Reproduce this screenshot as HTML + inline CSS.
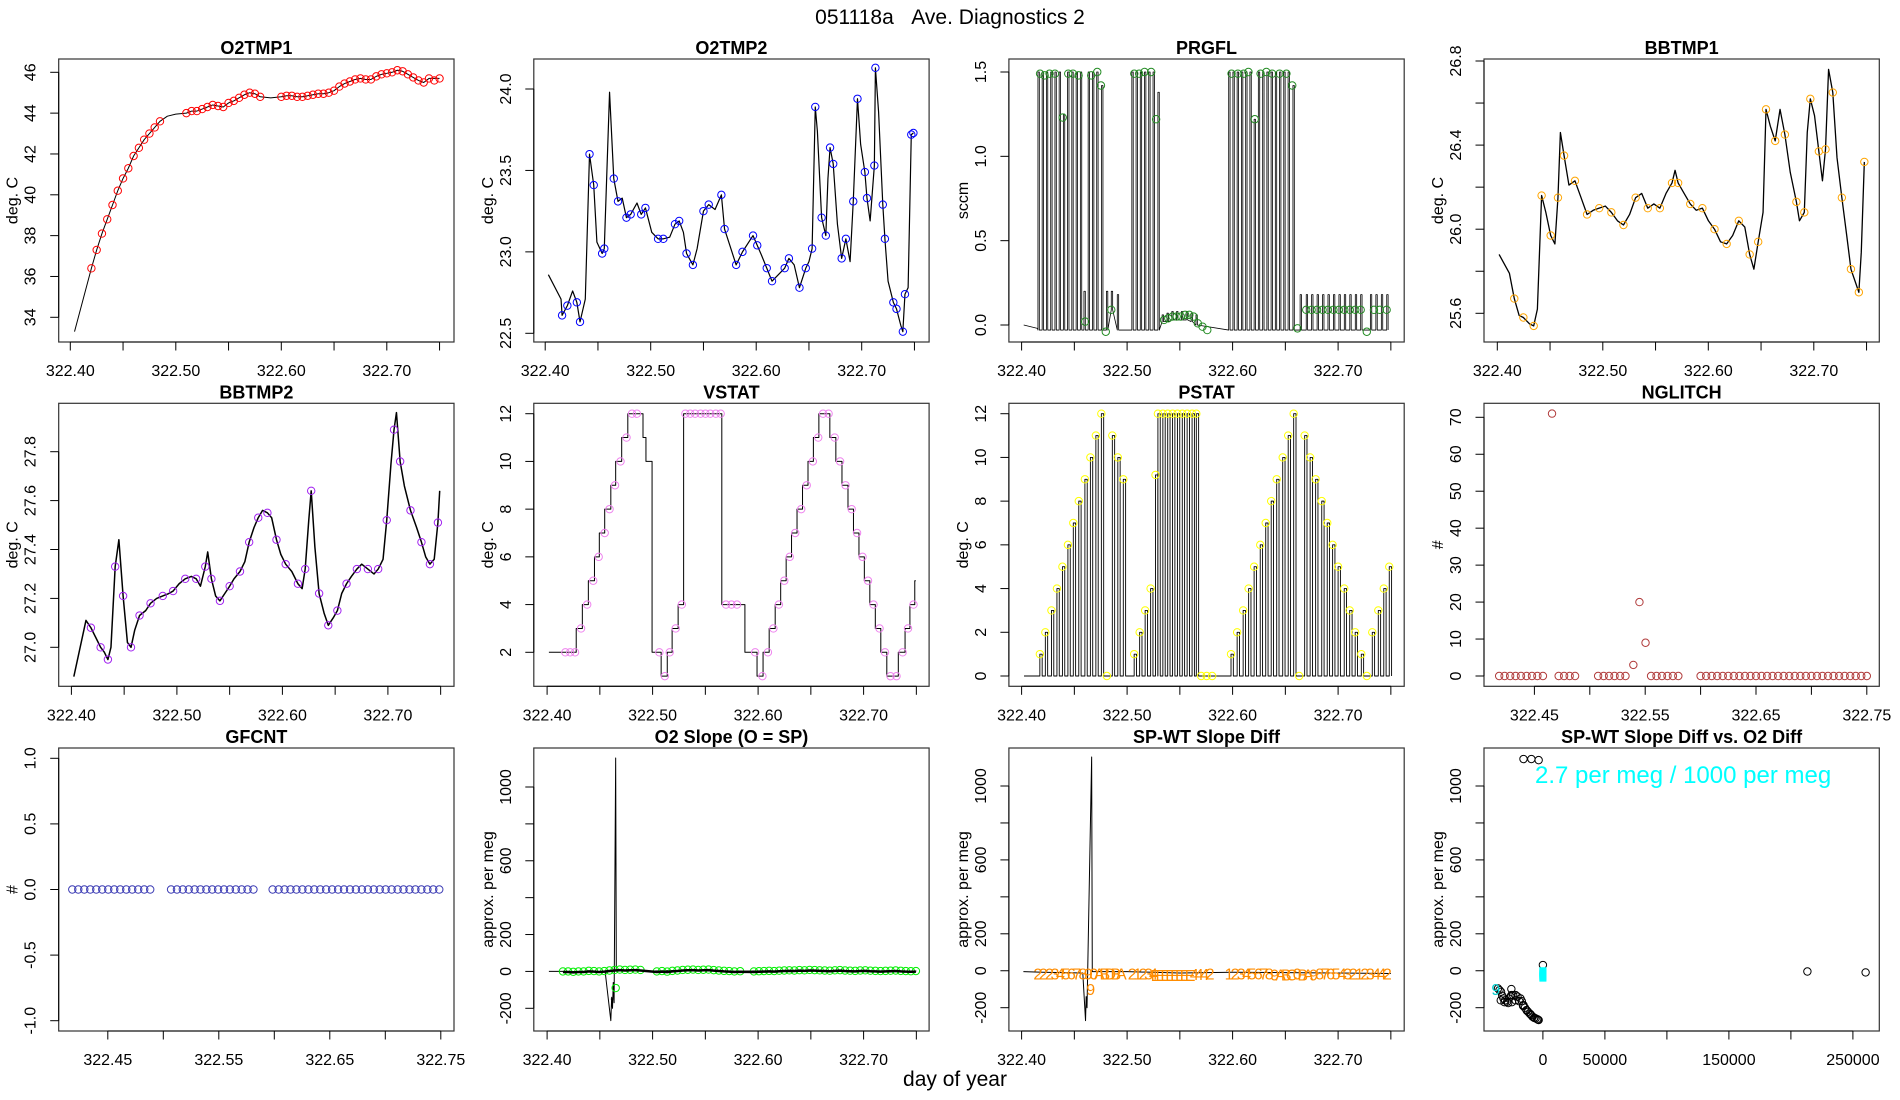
<!DOCTYPE html>
<html><head><meta charset="utf-8"><title>051118a Ave. Diagnostics 2</title>
<style>
html,body{margin:0;padding:0;background:#fff;}
svg{display:block;font-family:"Liberation Sans",Arial,sans-serif;}
</style></head>
<body>
<svg id="chart" width="1900" height="1100" viewBox="0 0 1900 1100" xmlns="http://www.w3.org/2000/svg">
<rect x="0" y="0" width="1900" height="1100" fill="#fff"/>
<text x="950" y="24" font-size="21" text-anchor="middle">051118a&#160;&#160;&#160;Ave. Diagnostics 2</text>
<text x="955" y="1086" font-size="21" text-anchor="middle">day of year</text>
</svg>
<script>
// ---------- DATA ----------
const dayTicks=[322.40,322.45,322.50,322.55,322.60,322.65,322.70,322.75];
const dayLabels=['322.40','','322.50','','322.60','','322.70',''];
const shortTicks=[322.45,322.50,322.55,322.60,322.65,322.70,322.75];
const shortLabels=['322.45','','322.55','','322.65','','322.75'];

// O2TMP1
const o2t1LineT=[322.404,322.420,322.425,322.430,322.435,322.440,322.445,322.450,322.455,322.460,322.465,322.470,322.475,322.480,322.485,322.492,322.500,322.510,322.515,322.520,322.525,322.530,322.535,322.540,322.545,322.550,322.555,322.560,322.565,322.570,322.575,322.580,322.590,322.600,322.605,322.610,322.615,322.620,322.625,322.630,322.635,322.640,322.645,322.650,322.655,322.660,322.665,322.670,322.675,322.680,322.685,322.690,322.695,322.700,322.705,322.710,322.715,322.720,322.725,322.730,322.735,322.740,322.745,322.750];
const o2t1LineV=[33.3,36.4,37.3,38.1,38.8,39.5,40.2,40.8,41.3,41.9,42.3,42.7,43.0,43.3,43.6,43.85,43.95,44.0,44.1,44.1,44.2,44.3,44.4,44.35,44.3,44.5,44.6,44.75,44.9,45.0,44.95,44.8,44.75,44.8,44.85,44.85,44.8,44.8,44.85,44.9,44.95,44.95,45.0,45.1,45.3,45.45,45.55,45.65,45.7,45.65,45.65,45.8,45.9,45.95,46.0,46.1,46.05,45.9,45.75,45.6,45.5,45.7,45.7,45.7];
const o2t1CircT=[322.420,322.425,322.430,322.435,322.440,322.445,322.450,322.455,322.460,322.465,322.470,322.475,322.480,322.485,322.510,322.515,322.520,322.525,322.530,322.535,322.540,322.545,322.550,322.555,322.560,322.565,322.570,322.575,322.580,322.600,322.605,322.610,322.615,322.620,322.625,322.630,322.635,322.640,322.645,322.650,322.655,322.660,322.665,322.670,322.675,322.680,322.685,322.690,322.695,322.700,322.705,322.710,322.715,322.720,322.725,322.730,322.735,322.740,322.745,322.750];
const o2t1CircV=[36.4,37.3,38.1,38.8,39.5,40.2,40.8,41.3,41.9,42.3,42.7,43.0,43.3,43.6,44.0,44.1,44.1,44.2,44.3,44.4,44.35,44.3,44.5,44.6,44.75,44.9,45.0,44.95,44.8,44.8,44.85,44.85,44.8,44.8,44.85,44.9,44.95,44.95,45.0,45.1,45.3,45.45,45.55,45.65,45.7,45.65,45.65,45.8,45.9,45.95,46.0,46.1,46.05,45.9,45.75,45.6,45.5,45.7,45.6,45.7];

// O2TMP2
const o2t2T=[322.403,322.415,322.416,322.421,322.426,322.430,322.433,322.438,322.442,322.446,322.449,322.454,322.456,322.461,322.465,322.469,322.473,322.477,322.481,322.487,322.491,322.495,322.501,322.507,322.512,322.518,322.523,322.527,322.531,322.534,322.540,322.544,322.550,322.555,322.561,322.567,322.570,322.575,322.581,322.587,322.593,322.597,322.601,322.605,322.610,322.615,322.621,322.627,322.631,322.636,322.641,322.647,322.650,322.653,322.656,322.658,322.662,322.666,322.668,322.670,322.673,322.677,322.681,322.685,322.689,322.692,322.696,322.699,322.703,322.705,322.708,322.712,322.713,322.716,322.720,322.722,322.725,322.730,322.733,322.737,322.739,322.741,322.744,322.747,322.749];
const o2t2V=[22.86,22.71,22.61,22.67,22.76,22.69,22.57,22.71,23.60,23.41,23.06,22.99,23.02,23.98,23.45,23.31,23.33,23.21,23.23,23.30,23.23,23.27,23.12,23.08,23.08,23.09,23.17,23.19,23.12,22.99,22.92,23.02,23.25,23.29,23.26,23.35,23.14,23.04,22.92,23.00,23.06,23.10,23.04,22.98,22.90,22.82,22.86,22.90,22.96,22.92,22.78,22.90,22.94,23.02,23.89,23.74,23.21,23.10,23.45,23.64,23.54,23.17,22.96,23.08,22.94,23.31,23.94,23.66,23.49,23.33,23.19,23.53,24.13,23.86,23.29,23.08,22.82,22.69,22.65,22.55,22.51,22.74,22.78,23.72,23.73];

// PRGFL
const prgflT=[322.4155,322.4195,322.4235,322.4276,322.4316,322.4356,322.4396,322.4436,322.4476,322.4517,322.4557,322.4591,322.4631,322.4672,322.4712,322.4758,322.4804,322.4850,322.4907,322.5045,322.5085,322.5125,322.5165,322.5205,322.5246,322.5292,322.5332,322.5378,322.5424,322.5469,322.5515,322.5561,322.5607,322.5653,322.5963,322.6003,322.6043,322.6084,322.6124,322.6164,322.6204,322.6244,322.6285,322.6325,322.6365,322.6405,322.6445,322.6485,322.6526,322.6572,322.6640,322.6698,322.6749,322.6801,322.6853,322.6904,322.6956,322.7008,322.7059,322.7111,322.7163,322.7214,322.7306,322.7358,322.7410,322.7461];
const prgflH=[1.5,1.5,1.5,1.5,1.5,1.5,1.25,1.5,1.5,1.5,1.5,0.2,1.5,1.5,1.5,1.42,0.2,0.2,0.18,1.5,1.5,1.5,1.5,1.5,1.5,1.38,0.06,0.07,0.08,0.08,0.08,0.08,0.07,0.06,1.5,1.5,1.5,1.5,1.5,1.5,1.22,1.5,1.5,1.5,1.5,1.5,1.5,1.5,1.5,1.42,0.18,0.18,0.18,0.18,0.18,0.18,0.18,0.18,0.18,0.18,0.18,0.18,0.18,0.18,0.18,0.18];
const prgflB=[-0.03,-0.03,-0.03,-0.03,-0.03,-0.03,-0.03,-0.03,-0.03,-0.03,-0.03,-0.03,-0.03,-0.03,-0.03,-0.03,-0.03,0.09,-0.03,-0.03,-0.03,-0.03,-0.03,-0.03,-0.03,-0.03,0.02,0.02,0.03,0.03,0.03,0.03,0.02,0.0,-0.03,-0.03,-0.03,-0.03,-0.03,-0.03,-0.03,-0.03,-0.03,-0.03,-0.03,-0.03,-0.03,-0.03,-0.03,-0.03,-0.03,-0.03,-0.03,-0.03,-0.03,-0.03,-0.03,-0.03,-0.03,-0.03,-0.03,-0.03,-0.03,-0.03,-0.03,-0.03];
const prgflCT=[322.4175,322.4218,322.4265,322.4316,322.4390,322.4442,322.4487,322.4540,322.4602,322.4660,322.4717,322.4752,322.4798,322.4850,322.5068,322.5114,322.5165,322.5228,322.5275,322.5350,322.5390,322.5430,322.5470,322.5510,322.5550,322.5590,322.5630,322.5670,322.5715,322.5760,322.5990,322.6050,322.6105,322.6150,322.6210,322.6265,322.6320,322.6375,322.6445,322.6510,322.6565,322.6615,322.6698,322.6749,322.6801,322.6853,322.6904,322.6956,322.7008,322.7059,322.7111,322.7163,322.7214,322.7272,322.7340,322.7395,322.7460];
const prgflCV=[1.49,1.48,1.49,1.49,1.23,1.49,1.49,1.48,0.02,1.48,1.5,1.42,-0.04,0.09,1.49,1.49,1.5,1.5,1.22,0.03,0.04,0.05,0.05,0.05,0.06,0.06,0.05,0.01,-0.01,-0.03,1.49,1.49,1.49,1.5,1.22,1.49,1.5,1.49,1.49,1.49,1.42,-0.02,0.09,0.09,0.09,0.09,0.09,0.09,0.09,0.09,0.09,0.09,0.09,-0.04,0.09,0.09,0.09];

// BBTMP1
const bb1T=[322.4017,322.4115,322.4161,322.4207,322.4247,322.4305,322.4345,322.4380,322.4420,322.4460,322.4506,322.4546,322.4575,322.4598,322.4633,322.4679,322.4736,322.4794,322.4851,322.4909,322.4966,322.5024,322.5081,322.5139,322.5196,322.5254,322.5311,322.5369,322.5426,322.5484,322.5541,322.5599,322.5656,322.5685,322.5714,322.5771,322.5829,322.5886,322.5944,322.6001,322.6059,322.6116,322.6174,322.6231,322.6289,322.6346,322.6392,322.6432,322.6473,322.6519,322.6547,322.6588,322.6634,322.6680,322.6726,322.6777,322.6835,322.6864,322.6910,322.6938,322.6967,322.7007,322.7048,322.7082,322.7111,322.7140,322.7180,322.7220,322.7266,322.7312,322.7352,322.7393,322.7427,322.7450,322.7479];
const bb1V=[25.88,25.79,25.67,25.59,25.58,25.55,25.54,25.62,26.16,26.08,25.97,25.93,26.15,26.46,26.35,26.21,26.23,26.15,26.07,26.09,26.10,26.11,26.08,26.04,26.02,26.07,26.15,26.17,26.10,26.12,26.10,26.17,26.22,26.28,26.22,26.17,26.12,26.09,26.10,26.04,26.00,25.94,25.93,25.97,26.04,26.01,25.88,25.81,25.94,26.08,26.57,26.49,26.42,26.57,26.45,26.27,26.13,26.04,26.08,26.46,26.62,26.54,26.37,26.23,26.38,26.76,26.65,26.34,26.15,25.97,25.81,25.75,25.70,25.89,26.32];

// BBTMP2
const bb2T=[322.4023,322.4138,322.4185,322.4231,322.4277,322.4312,322.4346,322.4375,322.4415,322.4450,322.4490,322.4531,322.4565,322.4600,322.4646,322.4704,322.4750,322.4808,322.4866,322.4923,322.4964,322.5021,322.5079,322.5137,322.5183,322.5223,322.5269,322.5292,322.5327,322.5367,322.5408,322.5454,322.5500,322.5541,322.5598,322.5644,322.5685,322.5731,322.5771,322.5812,322.5858,322.5898,322.5944,322.5985,322.6031,322.6089,322.6147,322.6187,322.6216,322.6250,322.6273,322.6308,322.6348,322.6395,322.6435,322.6481,322.6521,322.6562,322.6608,322.6654,322.6706,322.6752,322.6810,322.6868,322.6908,322.6954,322.6989,322.7029,322.7058,322.7081,322.7116,322.7156,322.7214,322.7272,322.7318,322.7358,322.7398,322.7439,322.7474,322.7491];
const bb2V=[26.88,27.11,27.08,27.04,27.00,26.98,26.95,27.00,27.33,27.44,27.21,27.02,27.00,27.07,27.13,27.15,27.18,27.20,27.21,27.22,27.23,27.26,27.28,27.29,27.28,27.25,27.33,27.39,27.28,27.21,27.19,27.22,27.25,27.28,27.31,27.35,27.43,27.49,27.53,27.56,27.55,27.53,27.44,27.38,27.34,27.31,27.26,27.24,27.32,27.52,27.64,27.41,27.22,27.14,27.09,27.12,27.15,27.22,27.26,27.29,27.32,27.34,27.32,27.30,27.32,27.36,27.52,27.75,27.89,27.96,27.76,27.66,27.56,27.49,27.43,27.37,27.34,27.36,27.51,27.64];

// VSTAT
const vstatT=[322.4017,322.4276,322.4334,322.4391,322.4449,322.4495,322.4546,322.4604,322.4650,322.4707,322.4765,322.4909,322.4937,322.4995,322.5081,322.5139,322.5185,322.5242,322.5294,322.5656,322.5875,322.5990,322.6047,322.6105,322.6162,322.6214,322.6266,322.6317,322.6369,322.6421,322.6473,322.6524,322.6576,322.6680,322.6737,322.6795,322.6852,322.6904,322.6956,322.7007,322.7059,322.7111,322.7163,322.7220,322.7329,322.7393,322.7439,322.7485];
const vstatV=[2,3,4,5,6,7,8,9,10,11,12,11,10,2,1,2,3,4,12,4,2,1,2,3,4,5,6,7,8,9,10,11,12,11,10,9,8,7,6,5,4,3,2,1,2,3,4,5];
const vstatCT=[322.4173,322.4219,322.4265,322.4322,322.4380,322.4437,322.4489,322.4546,322.4592,322.4644,322.4696,322.4753,322.4805,322.4851,322.5064,322.5116,322.5162,322.5219,322.5277,322.5311,322.5357,322.5403,322.5455,322.5501,322.5547,322.5599,322.5645,322.5696,322.5748,322.5800,322.5972,322.6041,322.6093,322.6145,322.6197,322.6248,322.6300,322.6352,322.6409,322.6461,322.6519,322.6570,322.6616,322.6668,322.6726,322.6777,322.6829,322.6887,322.6938,322.6990,322.7042,322.7094,322.7151,322.7203,322.7255,322.7312,322.7370,322.7421,322.7473];
const vstatCV=[2,2,2,3,4,5,6,7,8,9,10,11,12,12,2,1,2,3,4,12,12,12,12,12,12,12,12,4,4,4,2,1,2,3,4,5,6,7,8,9,10,11,12,12,11,10,9,8,7,6,5,4,3,2,1,1,2,3,4];

// PSTAT
const pstatT=[322.4173,322.4225,322.4283,322.4335,322.4387,322.4439,322.4490,322.4542,322.4600,322.4652,322.4704,322.4756,322.4808,322.4860,322.4912,322.4964,322.5067,322.5119,322.5171,322.5223,322.5269,322.5292,322.5339,322.5385,322.5431,322.5477,322.5523,322.5569,322.5616,322.5656,322.5702,322.5754,322.5806,322.5985,322.6043,322.6100,322.6152,322.6204,322.6262,322.6314,322.6366,322.6418,322.6475,322.6527,322.6579,322.6631,322.6683,322.6735,322.6787,322.6845,322.6897,322.6948,322.7000,322.7058,322.7110,322.7162,322.7220,322.7272,322.7324,322.7381,322.7433,322.7485];
const pstatV=[1,2,3,4,5,6,7,8,9,10,11,12,0,11,10,9,1,2,3,4,9.2,12,12,12,12,12,12,12,12,12,0,0,0,1,2,3,4,5,6,7,8,9,10,11,12,0,11,10,9,8,7,6,5,4,3,2,1,0,2,3,4,5];

// NGLITCH
const nglT=[322.4182,322.4231,322.4281,322.4330,322.4379,322.4429,322.4478,322.4527,322.4577,322.4659,322.4719,322.4768,322.4818,322.4867,322.5075,322.5125,322.5174,322.5223,322.5273,322.5322,322.5393,322.5448,322.5503,322.5553,322.5602,322.5651,322.5701,322.5750,322.5799,322.600,322.605,322.610,322.615,322.620,322.625,322.630,322.635,322.640,322.645,322.650,322.655,322.660,322.665,322.670,322.675,322.680,322.685,322.690,322.695,322.700,322.705,322.710,322.715,322.720,322.725,322.730,322.735,322.740,322.745,322.750];
const nglV=[0,0,0,0,0,0,0,0,0,71,0,0,0,0,0,0,0,0,0,0,3,20,9,0,0,0,0,0,0,0,0,0,0,0,0,0,0,0,0,0,0,0,0,0,0,0,0,0,0,0,0,0,0,0,0,0,0,0,0,0];

// GFCNT
const gfT=[322.418,322.4234,322.4288,322.4342,322.4396,322.445,322.4504,322.4558,322.4612,322.4666,322.472,322.4774,322.4828,322.4882,322.507,322.5123,322.5176,322.5229,322.5282,322.5335,322.5388,322.5441,322.5494,322.5547,322.56,322.5653,322.5706,322.5759,322.5812,322.5985,322.6039,322.6092,322.6146,322.6199,322.6253,322.6307,322.636,322.6414,322.6467,322.6521,322.6575,322.6628,322.6682,322.6735,322.6789,322.6843,322.6896,322.695,322.7003,322.7057,322.7111,322.7164,322.7218,322.7271,322.7325,322.7379,322.7432,322.7486];
const gfV=[0,0,0,0,0,0,0,0,0,0,0,0,0,0,0,0,0,0,0,0,0,0,0,0,0,0,0,0,0,0,0,0,0,0,0,0,0,0,0,0,0,0,0,0,0,0,0,0,0,0,0,0,0,0,0,0,0,0];

// O2 Slope
const o2sLT=[322.4017,322.42,322.44,322.455,322.4604,322.4612,322.462,322.4627,322.4635,322.4650,322.4656,322.48,322.50,322.52,322.55,322.58,322.60,322.65,322.70,322.75];
const o2sLV=[0,0,-2,0,-267,-140,-200,-60,-170,1157,2,4,2,5,3,1,3,2,3,2];
const o2sCT=[322.415,322.4199,322.4248,322.4297,322.4346,322.4395,322.4444,322.4493,322.4542,322.4591,322.464,322.4689,322.4738,322.4787,322.4836,322.4885,322.504,322.5089,322.5138,322.5187,322.5236,322.5285,322.5334,322.5383,322.5432,322.5481,322.553,322.5579,322.5628,322.5677,322.5726,322.5775,322.583,322.596,322.6008,322.6056,322.6104,322.6152,322.62,322.6248,322.6296,322.6344,322.6392,322.644,322.6488,322.6536,322.6584,322.6632,322.668,322.6728,322.6776,322.6824,322.6872,322.692,322.6968,322.7016,322.7064,322.7112,322.716,322.7208,322.7256,322.7304,322.7352,322.74,322.7448,322.7496,322.4650];
const o2sCV=[0,0,-2,0,0,3,2,0,2,5,8,10,8,9,10,8,0,2,-1,3,5,8,9,10,8,9,10,7,5,3,2,0,1,0,1,2,3,2,4,5,6,5,7,6,8,7,6,5,4,6,7,5,4,3,5,6,4,3,2,3,4,5,3,2,1,2,-90];

// SP-WT Slope Diff
const spLT=[322.4017,322.42,322.44,322.458,322.4606,322.4612,322.462,322.4664,322.467,322.50,322.55,322.60,322.65,322.70,322.75];
const spLV=[-5,-8,-10,-12,-270,-140,-200,1157,-5,-5,-12,-8,-10,-12,-15];
const spLab=['2','2','2','3','4','5','6','7','8','9','0','A','B','D','B','A','2','1','2','3','4','E','E','E','E','E','E','E','E','4','4','4','2','1','2','3','4','5','6','7','8','9','A','B','C','0','B','A','9','8','7','6','5','4','3','2','1','2','3','4','4','2'];
const spV=[-15,-15,-15,-15,-15,-15,-15,-15,-15,-15,-15,-15,-15,-15,-15,-15,-15,-15,-15,-15,-15,-22,-22,-22,-22,-22,-22,-22,-22,-18,-18,-18,-15,-15,-15,-15,-15,-15,-15,-15,-15,-20,-20,-20,-20,-15,-20,-20,-20,-15,-15,-15,-15,-15,-15,-15,-15,-15,-15,-15,-15,-15];
const spOutT=[322.4655];
const spOutV=[-100];
const spOutLab=['9'];

// Scatter: SP-WT slope diff vs O2 diff
const scX=[-15656,-9300,-3425,-36200,-35000,-33755,-32800,-31800,-30500,-28863,-27500,-26000,-25438,-24000,-22014,-20500,-18100,-17000,-15654,-14500,-13208,-12000,-10762,-9500,-8316,-7000,-5870,-4600,-3424,-34000,-31000,-28000,-25000,-22000,-19000,-16000,-13000,-10000,-7000,-4000,-25438,0,213300,260260];
const scY=[1146,1146,1140,-96,-105,-114,-135,-150,-160,-168,-150,-140,-132,-132,-132,-140,-150,-165,-186,-200,-213,-222,-231,-240,-249,-254,-258,-262,-267,-160,-170,-175,-170,-160,-165,-190,-215,-235,-255,-265,-99,31,-4,-9];
const cyX=[0,0,0,0,0,0,0,0,0];
const cyY=[0,-5,-10,-15,-20,-25,-30,-35,-40];
const cyOutX=[-38000];
const cyOutY=[-100];

// ---------- RENDERING ----------
const NS='http://www.w3.org/2000/svg';
const svg=document.getElementById('chart');
function mk(tag,attrs,parent){const e=document.createElementNS(NS,tag);for(const k in attrs)e.setAttribute(k,attrs[k]);parent.appendChild(e);return e;}
function lin(d1,p1,d2,p2){const k=(p2-p1)/(d2-d1);return v=>p1+(v-d1)*k;}
const COLS=[58.7,533.8,1008.9,1484],ROWS=[59,403.3,748],PW=395.3,PH=283;

function frame(name,c,r,title,ylab,xs,ys,xt,xl,yt,yl){
  const L=COLS[c],T=ROWS[r];
  const g=mk('g',{},svg);
  
  
  const box=mk('rect',{x:L,y:T,width:PW,height:PH,fill:'none',stroke:'#333','stroke-width':1.2},g);
  
  
  const tt=mk('text',{x:L+PW/2,y:T-5,'font-size':18,'font-weight':'bold','text-anchor':'middle'},g);
  tt.textContent=title;
  
  
  const yb=T+PH;
  const xa=mk('line',{x1:xs(xt[0]),x2:xs(xt[xt.length-1]),y1:yb,y2:yb,stroke:'#000'},g);
  
  
  xt.forEach((v,i)=>{
    const tk=mk('line',{x1:xs(v),x2:xs(v),y1:yb,y2:yb+8.5,stroke:'#000'},g);
    
    
    if(xl[i]){const t=mk('text',{x:xs(v),y:yb+34,'font-size':16,'text-anchor':'middle'},g);t.textContent=xl[i];
      
      }
  });
  const ya=mk('line',{x1:L,x2:L,y1:ys(yt[0]),y2:ys(yt[yt.length-1]),stroke:'#000'},g);
  
  
  yt.forEach((v,i)=>{
    const tk=mk('line',{x1:L-8.5,x2:L,y1:ys(v),y2:ys(v),stroke:'#000'},g);
    
    
    if(yl[i]){const t=mk('text',{transform:`translate(${L-23},${ys(v)}) rotate(-90)`,'font-size':16,'text-anchor':'middle'},g);t.textContent=yl[i];
      
      }
  });
  const yt2=mk('text',{transform:`translate(${L-41},${T+PH/2}) rotate(-90)`,'font-size':16,'text-anchor':'middle'},g);
  yt2.textContent=ylab;
  
  
  const clip=mk('g',{},g);
  
  
  return clip;
}
function line(g,pts,w,name){
  const p=mk('polyline',{points:pts.map(q=>q[0].toFixed(2)+','+q[1].toFixed(2)).join(' '),fill:'none',stroke:'#000','stroke-width':w||1,'stroke-linejoin':'round'},g);
  
  
}
function circles(g,X,Y,xs,ys,col,name){
  X.forEach((t,i)=>{
    const c=mk('circle',{cx:xs(t),cy:ys(Y[i]),r:3.7,fill:'none',stroke:col,'stroke-width':1},g);
    
    
  });
}
function dayX(c,off){const L=COLS[c];return lin(322.40,L+off,322.50,L+off+105.5);}
function yr(a,b,s){const o=[];for(let v=a;v<=b+1e-9;v+=s)o.push(+v.toFixed(4));return o;}

// Panel 1 O2TMP1
{const xs=dayX(0,11.6),ys=lin(46,72.3,34,317.3);const yt=yr(34,46,2);
 const g=frame('panel-o2tmp1',0,0,'O2TMP1','deg. C',xs,ys,dayTicks,dayLabels,yt,yt.map(String));
 line(g,o2t1LineT.map((t,i)=>[xs(t),ys(o2t1LineV[i])]),1,'o2tmp1-line');
 circles(g,o2t1CircT,o2t1CircV,xs,ys,'#ff0000','o2tmp1-point');}
// Panel 2 O2TMP2
{const xs=dayX(1,11.4),ys=lin(24,89,22.5,333.3);const yt=[22.5,23.0,23.5,24.0];
 const g=frame('panel-o2tmp2',1,0,'O2TMP2','deg. C',xs,ys,dayTicks,dayLabels,yt,yt.map(v=>v.toFixed(1)));
 line(g,o2t2T.map((t,i)=>[xs(t),ys(o2t2V[i])]),1.2,'o2tmp2-line');
 circles(g,o2t2T.filter((t,i)=>i>0&&i%3!=1),o2t2V.filter((t,i)=>i>0&&i%3!=1),xs,ys,'#0000ff','o2tmp2-point');}
// Panel 3 PRGFL
{const xs=dayX(2,12.7),ys=lin(1.5,72,0,325);const yt=[0,0.5,1.0,1.5];
 const g=frame('panel-prgfl',2,0,'PRGFL','sccm',xs,ys,dayTicks,dayLabels,yt,yt.map(v=>v.toFixed(1)));
 const pts=[[xs(322.402),ys(0)],[xs(322.415),ys(-0.02)]];
 prgflT.forEach((t,i)=>{const w=0.0013;pts.push([xs(t),ys(prgflB[i])],[xs(t),ys(prgflH[i])],[xs(t+w),ys(prgflH[i])],[xs(t+w),ys(prgflB[i])]);});
 line(g,pts,0.8,'prgfl-line');
 circles(g,prgflCT,prgflCV,xs,ys,'#228b22','prgfl-point');}
// Panel 4 BBTMP1
{const xs=dayX(3,13.3),ys=lin(26.8,61,25.6,313.3);const yt=[25.6,25.8,26.0,26.2,26.4,26.6,26.8];
 const g=frame('panel-bbtmp1',3,0,'BBTMP1','deg. C',xs,ys,dayTicks,dayLabels,yt,['25.6','','26.0','','26.4','','26.8']);
 line(g,bb1T.map((t,i)=>[xs(t),ys(bb1V[i])]),1.3,'bbtmp1-line');
 circles(g,bb1T.filter((t,i)=>i>1&&i%2==0),bb1V.filter((t,i)=>i>1&&i%2==0),xs,ys,'#ffa500','bbtmp1-point');}
// Panel 5 BBTMP2
{const xs=dayX(0,12.7),ys=lin(27.8,451.7,27.0,647.3);const yt=[27.0,27.2,27.4,27.6,27.8];
 const g=frame('panel-bbtmp2',0,1,'BBTMP2','deg. C',xs,ys,dayTicks,dayLabels,yt,yt.map(v=>v.toFixed(1)));
 line(g,bb2T.map((t,i)=>[xs(t),ys(bb2V[i])]),1.5,'bbtmp2-line');
 circles(g,bb2T.filter((t,i)=>i>1&&i%2==0),bb2V.filter((t,i)=>i>1&&i%2==0),xs,ys,'#a020f0','bbtmp2-point');}
// Panel 6 VSTAT
{const xs=dayX(1,13.3),ys=lin(12,413.7,2,652.3);const yt=[2,4,6,8,10,12];
 const g=frame('panel-vstat',1,1,'VSTAT','deg. C',xs,ys,dayTicks,dayLabels,yt,yt.map(String));
 const pts=[];vstatT.forEach((t,i)=>{if(i>0)pts.push([xs(t),ys(vstatV[i-1])]);pts.push([xs(t),ys(vstatV[i])]);});
 pts.push([xs(322.7495),ys(vstatV[vstatV.length-1])]);
 line(g,pts,1,'vstat-line');
 circles(g,vstatCT,vstatCV,xs,ys,'#ee82ee','vstat-point');}
// Panel 7 PSTAT
{const xs=dayX(2,12.7),ys=lin(12,413.7,0,676);const yt=[0,2,4,6,8,10,12];
 const g=frame('panel-pstat',2,1,'PSTAT','deg. C',xs,ys,dayTicks,dayLabels,yt,yt.map(String));
 const pts=[[xs(322.4023),ys(0)]];
 pstatT.forEach((t,i)=>{const w=0.0022;pts.push([xs(t),ys(0)],[xs(t),ys(pstatV[i])],[xs(t+w),ys(pstatV[i])],[xs(t+w),ys(0)]);});
 line(g,pts,0.9,'pstat-line');
 circles(g,pstatT,pstatV,xs,ys,'#ffff00','pstat-point');}
// Panel 8 NGLITCH
{const L=COLS[3];const xs=lin(322.45,L+50.4,322.55,L+50.4+110.8),ys=lin(70,417.3,0,676);const yt=[0,10,20,30,40,50,60,70];
 const g=frame('panel-nglitch',3,1,'NGLITCH','#',xs,ys,shortTicks,shortLabels,yt,yt.map(String));
 circles(g,nglT,nglV,xs,ys,'#b03a3a','nglitch-point');}
// Panel 9 GFCNT
{const L=COLS[0];const xs=lin(322.45,L+49.1,322.55,L+49.1+111),ys=lin(1,758.3,-1,1020.7);const yt=[-1,-0.5,0,0.5,1];
 const g=frame('panel-gfcnt',0,2,'GFCNT','#',xs,ys,shortTicks,shortLabels,yt,yt.map(v=>v.toFixed(1)));
 circles(g,gfT,gfV,xs,ys,'#3c3cb4','gfcnt-point');}
// Panel 10 O2 Slope
{const xs=dayX(1,13.3),ys=lin(1000,787,-200,1008.3);const yt=[-200,0,200,400,600,800,1000];
 const g=frame('panel-o2-slope',1,2,'O2 Slope (O = SP)','approx. per meg',xs,ys,dayTicks,dayLabels,yt,['-200','0','200','','600','','1000']);
 line(g,o2sLT.map((t,i)=>[xs(t),ys(o2sLV[i])]),1,'o2-slope-line');
 const thick=mk('line',{x1:xs(322.4604),x2:xs(322.4627),y1:ys(-150),y2:ys(-150),stroke:'#000','stroke-width':1},g);
 
 
 circles(g,o2sCT,o2sCV,xs,ys,'#00ee00','o2-slope-point');
 line(g,o2sCT.slice(0,-1).map((t,i)=>[xs(t),ys(o2sCV[i]-3)]),2.5,'o2-slope-dense-line');}
// Panel 11 SP-WT Slope Diff
{const xs=dayX(2,12.7),ys=lin(1000,786,-200,1007.7);const yt=[-200,0,200,400,600,800,1000];
 const g=frame('panel-spwt-slope-diff',2,2,'SP-WT Slope Diff','approx. per meg',xs,ys,dayTicks,dayLabels,yt,['-200','0','200','','600','','1000']);
 line(g,spLT.map((t,i)=>[xs(t),ys(spLV[i])]),1,'spwt-line');
 pstatT.forEach((t,i)=>{const tx=mk('text',{x:xs(t)-2,y:ys(spV[i])+6,'font-size':16,'text-anchor':'middle',fill:'#ff8c00'},g);tx.textContent=spLab[i];
   
   });
 spOutT.forEach((t,i)=>{const tx=mk('text',{x:xs(t),y:ys(spOutV[i])+6,'font-size':16,'text-anchor':'middle',fill:'#ff8c00'},g);tx.textContent=spOutLab[i];
   
   });}
// Panel 12 scatter
{const xs=lin(0,1542.9,50000,1604.9),ys=lin(1000,786,-200,1007.7);const yt=[-200,0,200,400,600,800,1000];
 const g=frame('panel-slope-vs-o2-diff',3,2,'SP-WT Slope Diff vs. O2 Diff','approx. per meg',xs,ys,[0,50000,100000,150000,200000,250000],['0','50000','','150000','','250000'],yt,['-200','0','200','','600','','1000']);
 circles(g,scX,scY,xs,ys,'#000','scatter-point');
 cyX.forEach((x,i)=>{const r=mk('rect',{x:xs(x)-3.5,y:ys(cyY[i])-3.5,width:7,height:7,fill:'#00ffff'},g);
   
   });
 cyOutX.forEach((x,i)=>{const tx=mk('text',{x:xs(x),y:ys(cyOutY[i])+6,'font-size':16,'text-anchor':'middle',fill:'#00cccc'},g);tx.textContent='9';
   
   });
 const ann=mk('text',{x:1535,y:783,'font-size':24,fill:'#00ffff'},g);
 ann.textContent='2.7 per meg / 1000 per meg';
 
 }
</script>
</body></html>
